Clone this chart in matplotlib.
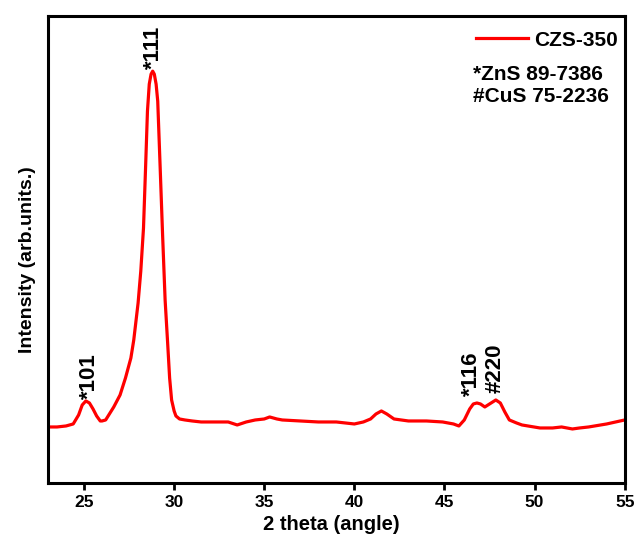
import matplotlib
matplotlib.use("Agg")
import matplotlib.pyplot as plt
import numpy as np

two_theta = [23.0, 23.5, 24.0, 24.4, 24.7, 24.9, 25.1, 25.3, 25.5, 25.7, 25.9, 26.0, 26.2, 26.65,
             27.0, 27.3, 27.6, 27.76, 28.0, 28.15, 28.3, 28.42, 28.52, 28.62, 28.72, 28.81, 28.9,
             29.0, 29.09, 29.22, 29.36, 29.5, 29.64, 29.75, 29.86, 30.0, 30.1, 30.3, 30.6, 31.0,
             31.5, 32.0, 33.0, 33.5, 34.0, 34.5, 35.0, 35.3, 35.7, 36.0, 37.0, 38.0, 39.0, 39.5,
             40.0, 40.5, 40.9, 41.2, 41.5, 41.8, 42.2, 43.0, 44.0, 44.9, 45.5, 45.8, 46.1, 46.4,
             46.6, 46.8, 47.0, 47.24, 47.5, 47.85, 48.1, 48.35, 48.6, 49.0, 49.3, 50.3, 51.0,
             51.5, 52.1, 52.5, 53.0, 54.0, 55.0]
intensity = [56, 56, 57, 59, 68, 78, 82, 80, 74, 67, 62, 62, 63, 76,
             88, 105, 125, 143, 180, 212, 255, 318, 372, 399, 409, 412, 409,
             399, 382, 318, 248, 183, 140, 105, 83, 72, 67, 64, 63, 62,
             61, 61, 61, 58, 61, 63, 64, 66, 64, 63, 62, 61, 61, 60,
             59, 61, 64, 69, 72, 69, 64, 62, 62, 61, 59, 57, 63, 74,
             79, 80, 79, 76, 79, 83, 80, 71, 63, 60, 58, 55, 55,
             56, 54, 55, 56, 59, 63]

peak_labels = ["*101", "*111", "*116", "#220"]
peak_pos = [25.3, 28.85, 46.5, 47.8]
peak_base = [84, 414, 87, 90]

legend_label = "CZS-350"
ref_lines = ["*ZnS 89-7386", "#CuS 75-2236"]

plt.rcParams['font.family'] = ['Liberation Sans', 'DejaVu Sans']
plt.rcParams['font.weight'] = 'bold'

fig = plt.figure(figsize=(6.44, 5.39), dpi=100)
ax = fig.add_axes([0.0745, 0.104, 0.8955, 0.866])

x = np.array(two_theta)
y = np.array(intensity)
ax.plot(x, y, color='#ff0000', lw=2.3, label=legend_label, solid_joinstyle='round')

ax.set_xlim(23, 55)
ax.set_ylim(0, 467)
ax.set_xticks([25, 30, 35, 40, 45, 50, 55])
ax.set_yticks([])
ax.tick_params(axis='x', direction='out', length=5, width=2, labelsize=12.5, pad=4)
for lbl in ax.get_xticklabels():
    lbl.set_fontweight('bold')
for s in ax.spines.values():
    s.set_linewidth(2.2)

ax.set_xlabel("2 theta (angle)", fontsize=14.5, fontweight='bold')
ax.set_ylabel("Intensity (arb.units.)", fontsize=14, fontweight='bold')
ax.xaxis.set_label_coords(0.4905, -0.068)
ax.yaxis.set_label_coords(-0.021, 0.4775)

for lab, px, pb in zip(peak_labels, peak_pos, peak_base):
    ax.text(px, pb, lab, rotation=90, ha='center', va='bottom', fontsize=16, fontweight='bold')

ax.legend(loc='center right', bbox_to_anchor=(618 / 644, 1 - 40 / 539), bbox_transform=fig.transFigure,
          frameon=False, handlelength=2.5, handletextpad=0.3, borderpad=0, borderaxespad=0,
          prop={'weight': 'bold', 'size': 15})
ax.text(473 / 644, 1 - 74 / 539, ref_lines[0], transform=fig.transFigure, ha='left', va='center',
        fontsize=15, fontweight='bold')
ax.text(473 / 644, 1 - 97 / 539, ref_lines[1], transform=fig.transFigure, ha='left', va='center',
        fontsize=15, fontweight='bold')

fig.savefig("out.png", dpi=100)
